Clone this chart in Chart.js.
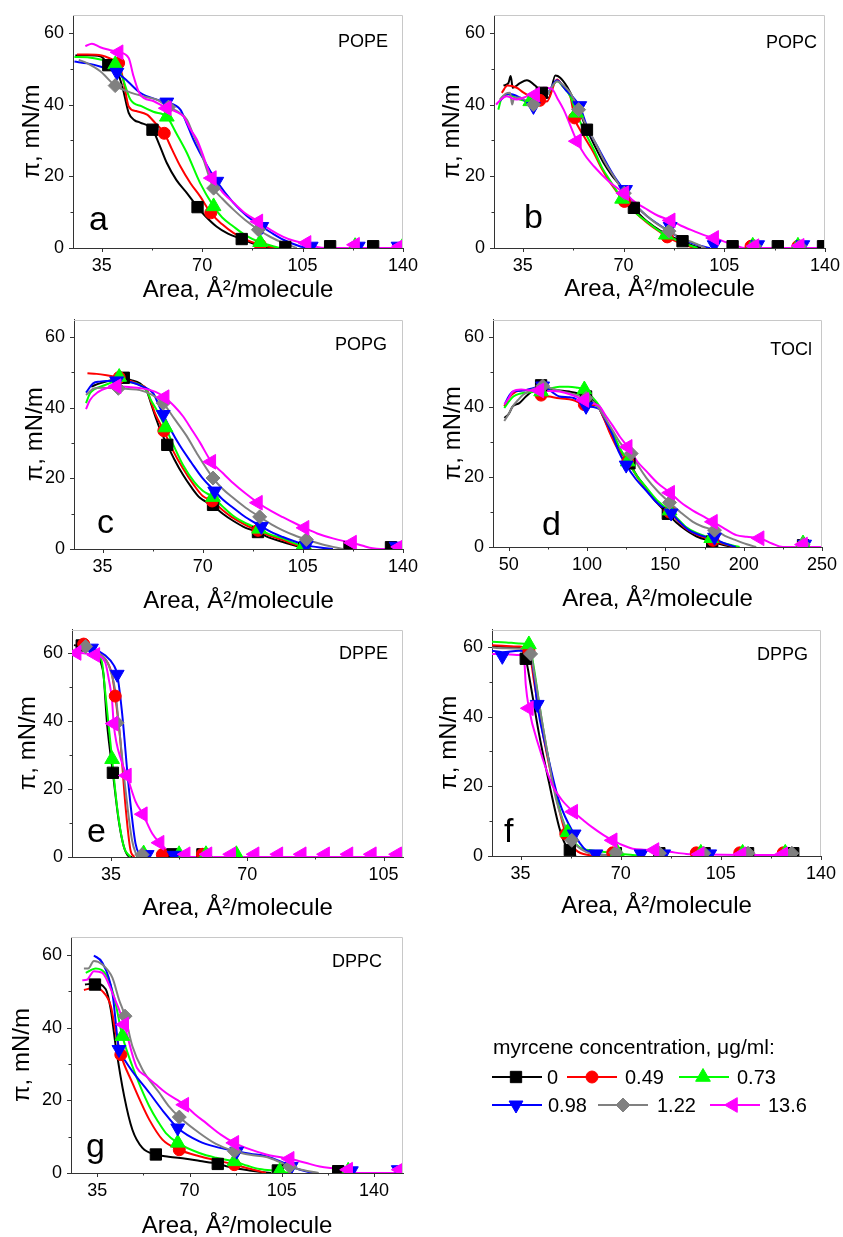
<!DOCTYPE html>
<html>
<head>
<meta charset="utf-8">
<script src="https://cdn.jsdelivr.net/npm/chart.js@4.4.0/dist/chart.umd.min.js"></script>
<style>
  html, body { margin: 0; padding: 0; background: #fff; overflow: hidden; }
  body { width: 843px; height: 1237px; position: relative; }
  canvas { position: absolute; }
</style>
</head>
<body>
<canvas id="pa"></canvas>
<canvas id="pb"></canvas>
<canvas id="pc"></canvas>
<canvas id="pd"></canvas>
<canvas id="pe"></canvas>
<canvas id="pf"></canvas>
<canvas id="pg"></canvas>
<script>
const FONT = '"Liberation Sans", Arial, sans-serif';

const concentrations = ['0', '0.49', '0.73', '0.98', '1.22', '13.6'];
const lipidNames = ['POPE', 'POPC', 'POPG', 'TOCl', 'DPPE', 'DPPG', 'DPPC'];
const panelLetters = ['a', 'b', 'c', 'd', 'e', 'f', 'g'];

// tick values
const xTicks35 = [35, 70, 105, 140];
const xMinor35 = [52.5, 87.5, 122.5];
const xTicksTocl = [50, 100, 150, 200, 250];
const xMinorTocl = [75, 125, 175, 225];
const xTicksDppe = [35, 70, 105];
const xMinorDppe = [52.5, 87.5];
const yTicks = [0, 20, 40, 60];
const yMinor = [10, 30, 50];

// ---- POPE (a) ---- order: 0, 0.49, 0.73, 0.98, 1.22, 13.6
const popeLines = [
  [[25.8,53.7],[30,53.8],[34.5,53.5],[38,50.5],[41,48],[42.5,44],[44.4,37.7],[46.5,35.6],[48.4,35],[52.7,33],[55,29],[57.7,23.7],[61,19],[64.7,15.3],[68.4,11.4],[71,9],[75,6],[79,4],[83.8,2.5],[88,1.2],[92.5,0.3],[96,0],[100,0]],
  [[26.4,54],[30,54],[35,53.7],[39,52.5],[40.9,51.6],[42.5,47],[44.4,39.5],[47,38.2],[50.8,37.2],[53.5,35],[56.8,32],[59.5,27.5],[62.4,22.8],[66,18],[69.3,14.4],[73,9.8],[77,6.6],[80.9,4.2],[85,2.4],[90.2,0.9],[96,0]],
  [[25.5,53.3],[30,53.2],[35,52.5],[39.7,51.2],[42,48],[45,41.4],[49,39.5],[53,38],[57.7,36.6],[61,32],[64.7,26.5],[69.3,18.1],[74,11.6],[77,8.5],[80.9,6],[85,3.6],[90.2,1.6],[97,0]],
  [[25.5,52],[30,51.5],[35,50.5],[40.3,49],[44,46.5],[48.4,43.3],[54.2,41.4],[57.7,40.7],[62.4,38.6],[64.5,35],[67,30.2],[71,24],[75.1,18.6],[80.9,12.6],[85.5,9],[90.8,6],[95,3.8],[98.3,2.3],[104,0.5],[107,0]],
  [[27,52.5],[30,51.5],[34.5,49.3],[39.7,45.3],[44,43.7],[50,42.2],[54.2,41.4],[58.3,39.3],[62,37.8],[64.7,35.8],[67,31.5],[69.3,27.4],[74,16.7],[77,13.8],[80.9,10.7],[85,7.8],[89.6,5.1],[94,3],[98.3,1.4],[103,0]],
  [[29.3,56.3],[31.6,57],[34.5,56],[37.5,55.3],[40.9,54.6],[44.4,53],[46.1,47.9],[48.4,42.8],[53,41],[57.7,39],[61,38],[63.5,36.7],[66,33],[68.2,30.2],[73.4,19.5],[77,15.7],[81,12.6],[85,9.7],[89.6,7.4],[94,5],[98.3,3.1],[102,2],[106.4,1.2],[110,0.3],[113,0],[140,0]]
];
const popeMarks = [
  [[37.3,51],[52.7,33],[68.4,11.4],[83.8,2.5],[99,0.3],[114.6,0.5],[129.6,0.5]],
  [[40.9,51.6],[56.8,32],[73,9.8],[90.2,0.9]],
  [[39.7,51.2],[57.7,36.6],[74,11.6],[90.2,1.6],[123.3,0.5],[140,0.6]],
  [[40.3,49],[57.7,40.7],[75.1,18.6],[90.8,6],[108,0.5],[124.4,0.5],[138.3,0.5]],
  [[39.7,45.3],[58.3,39.3],[74,16.7],[89.6,5.1]],
  [[40.9,54.6],[57.7,39],[73.4,19.5],[89.6,7.4],[106.4,1.4],[123.3,0.9],[139,0.5]]
];

// ---- POPC (b) ----
const popcLines = [
  [[28.3,45.3],[30,46],[30.8,48],[31.5,44.7],[34,46],[36.4,46.8],[39.3,45.3],[41.6,43.3],[44,41.9],[46.3,48.1],[48,47.5],[50.3,45.1],[52.7,41.4],[55,37.5],[57.3,33],[60,28.5],[63.1,23.7],[66,20.2],[69,17.2],[73.6,11.2],[77,8.2],[80.6,6],[85,3.8],[90.5,1.9],[95,0.4],[97,0]],
  [[27.7,43.3],[29.7,45.3],[32.9,44.7],[35,43.5],[37.6,42.3],[40.5,41.5],[43.4,40.9],[46.9,47],[49,45],[51.5,42.3],[53,36.3],[56,31.5],[59.7,26.5],[62.5,22],[65.5,18.1],[70.3,13],[74,10],[78.3,7],[82,4.8],[85.2,3.1],[90,1.2],[94.5,0]],
  [[26.5,38.6],[27.7,41.9],[30,42.8],[34,41.4],[37.6,40.9],[40.5,41.8],[43.4,42.8],[46.9,46.5],[49,45],[51.5,42.3],[53.6,37.7],[56.5,32.5],[59.7,27.4],[62.5,22.5],[65.5,18.6],[69.5,13.7],[74,10],[78.3,7.2],[82,5],[84.7,3.7],[90,1.6],[95.7,0]],
  [[27,41],[30,43],[34,42],[38.7,39.8],[43.4,42.8],[46.9,46.8],[50,44],[52.5,42],[54.8,39.5],[57.5,33.5],[60.8,28.5],[66.6,20.2],[70.7,15.6],[75,11.3],[78.3,8.8],[86.2,4.5],[90,2.6],[95,1],[100,0]],
  [[27,41.4],[29,43],[30.6,43.3],[31.3,40],[32,42],[34,41.9],[36,41.2],[38.7,40],[41,41.5],[43.4,42.8],[46.9,46.5],[49,45.5],[51.5,43.3],[54.4,38.6],[57.5,33.5],[60.8,28.4],[63.5,24],[66.6,20],[70.3,15.3],[74,12],[78.3,8.8],[82,6.5],[85.8,4.7],[90,2.8],[94.5,1.4],[98.5,0]],
  [[25.7,40],[27.5,41.5],[29.4,42.3],[32.9,41.4],[36.5,42.3],[39.3,42.8],[42.2,44.7],[45.1,44.4],[47,41.8],[49.2,38.6],[53.8,29.8],[56.5,26],[59.7,22.8],[65,18.5],[70.3,15.3],[74,12.8],[78.3,10.7],[82,9],[86.4,7.7],[90,6.2],[94.5,4.7],[98,3.6],[101.5,2.8],[106,1.5],[109.7,0.5],[112,0],[140,0]]
];
const popcMarks = [
  [[41.6,43.3],[57.3,33],[73.6,11.2],[90.5,1.9],[107.9,0.5],[123.6,0.5],[139.3,0.5]],
  [[40.9,41.2],[53,36.3],[70.3,13],[85.2,3.1],[114.3,0.5],[130.6,0.5]],
  [[37.6,40.9],[53.6,37.7],[69.5,13.7],[84.7,3.7],[114.9,0.6],[130.6,0.6]],
  [[38.7,39.5],[54.8,39.7],[70.7,16.3],[86.2,6],[101.5,0.9],[116.6,0.9],[132.3,0.9]],
  [[38.7,40],[54.4,38.6],[70.3,15.3],[85.8,4.7],[115.5,0.5],[131.2,0.5]],
  [[39.3,42.8],[53.8,29.8],[70.3,15.3],[86.4,7.7],[101.5,2.8],[115.5,0.5],[131.2,0.6]]
];

// ---- POPG (c) ----
const popgLines = [
  [[31,46],[34,46.9],[38,47.8],[42.4,48.3],[45,47.8],[48,46.9],[50.3,45],[52,41],[53.8,36.7],[55.5,33],[57.6,29.5],[60,25.5],[63.1,21],[66,17.5],[69,14.5],[73.6,12.3],[77,10],[80.6,8],[85,6],[89.3,4.8],[93,3.3],[98,2],[103.8,0.6],[106,0]],
  [[29.7,49.8],[32.9,49.6],[36.4,49.2],[39.9,48.7],[42.5,48.2],[45.7,47.3],[48,46.5],[50.3,45.5],[51.8,42],[53.3,38.5],[56.4,33.5],[59.5,28],[63.1,22.8],[67,18],[70,15],[73.3,13.6],[77,11],[80.6,8.8],[85,6.8],[89.3,5.3],[93,3.9],[98,2.5],[102,1.3],[106,0.2],[107,0]],
  [[29.2,41.3],[30.6,44.1],[32,45.2],[34,45.9],[37,46.8],[40.8,47.8],[44,47.3],[48,46.5],[50.3,45],[52,42],[53.8,39.5],[57,34.4],[60,29],[63.1,23.8],[67,19],[70,16.5],[73.6,14.7],[77,12],[80.6,9.4],[85,7.3],[89.7,5.7],[93,4.3],[98,3],[101.5,1.8],[105,0.8],[108,0]],
  [[29.2,44.3],[31.7,46.9],[34,47.4],[36.4,47.6],[39.9,47.6],[45,47.2],[49,46],[52.7,44.1],[54.5,41],[56.2,38.1],[59,33.5],[62,29.3],[66,24.5],[70,20],[74.2,16.4],[77,14],[80.6,11.7],[85,9],[90.5,6.4],[94,4.8],[98,3.4],[102,2.2],[106.2,1.1],[111,0.4],[115.5,0]],
  [[29.2,43.6],[32,45.5],[35,45.7],[40.5,45.5],[44,45.3],[48,45],[52,43.8],[55,42.2],[56.2,41.3],[60,37],[64.3,32.1],[68,27],[73.6,20.1],[77,17],[80.6,14.5],[85,11.7],[89.9,9.1],[94,7],[98,5.3],[102,3.9],[106.2,2.7],[111,1.5],[115.5,0.6],[119,0]],
  [[29.2,39.6],[30.6,42.2],[33.5,44.5],[36.5,45.6],[39.9,46.1],[45,45.8],[50,45.3],[53.5,44.5],[56.7,43],[60,40.5],[63.1,37.6],[66,34],[69,30.2],[73,24.7],[77,21.5],[80.6,18.7],[85,15.7],[89.3,13.1],[94,10.7],[98,9],[102,7.4],[105.6,6],[110,4.4],[115.5,3],[119,2.3],[122.2,1.8],[126,0.9],[129.4,0.2],[132,0],[140,0]]
];
const popgMarks = [
  [[42.4,48.5],[57.6,29.5],[73.6,12.5],[89.3,4.8],[105.5,0.3],[121.3,0.5],[135.8,0.5]],
  [[40.8,48.6],[56.4,33.5],[73.3,13.6],[89.3,5.3]],
  [[40.8,48.7],[57,34.4],[73.6,14.7],[89.7,5.7],[105,0.8]],
  [[39.9,47.6],[56.2,38.1],[74.2,16.4],[90.5,6.4],[106.2,1.1],[137.6,0.8]],
  [[40.5,45.5],[56.2,41.3],[73.6,20.1],[89.9,9.1],[106.2,2.7]],
  [[39.9,46.1],[56.7,43],[73,24.7],[89.3,13.1],[105.6,6],[122.2,1.8],[138.7,0.6]]
];

// ---- TOCl (d) ----
const toclLines = [
  [[47.2,36.9],[50,38],[52.6,40.2],[56.8,41.1],[61,43],[65,44.5],[70.7,46.2],[78.1,45],[88.8,44.4],[95,43.8],[99.4,43],[105.8,41.1],[109,38.5],[112.2,35.5],[116,31.5],[120.7,28.1],[127.1,23.9],[132,20.3],[137.8,16.9],[144,13],[151.6,9.5],[157,7],[163.3,4.8],[170,3],[179.9,1.6],[186,0.7],[193,0]],
  [[47.2,40.2],[50,42.5],[54.7,44.4],[60,44.8],[65,45],[70.7,43.4],[76,43],[82.4,42.5],[90.9,42],[98.3,40.7],[103,40.5],[106,40.5],[110,37.5],[114,33.2],[119,28.5],[126,24.4],[132,20],[138,16.3],[145,12.5],[152.7,10],[158,7.5],[164,5],[171,3.3],[180.4,1.9],[188,0.8],[195,0]],
  [[47.2,39.7],[50,41.5],[53,43],[57,43.8],[61,44.1],[66,44.3],[70.7,44.4],[76,45.2],[82.4,45.8],[88,45.8],[93,45.6],[98.3,45],[103,43],[108,40.2],[112,36.5],[116.5,32.7],[121,28.2],[126,24.4],[132,20.2],[138,16.9],[145,13.2],[152.7,10.4],[158,8],[163,5.8],[170,4],[179.3,2.5],[188,1],[197.4,0]],
  [[47.8,41.1],[50,43],[52.6,44.4],[59,44.7],[65,45.3],[71.7,46],[77,44.5],[82.4,43],[88,42.8],[92,42.5],[99.4,40.2],[104,40],[108,39.3],[112,36],[116.5,31.8],[120,27.5],[125,23.4],[131,19.5],[138,16],[145,12.5],[153.7,9.7],[159,7.2],[165,4.8],[172,3.4],[181.4,2.2],[188,1],[195,0]],
  [[47.2,36],[50,38],[52.6,40.2],[56,42],[59,43.4],[65,45],[71.7,46],[78,45.2],[84.5,44.4],[92,43.6],[99.4,42.5],[104,41.5],[108,39.3],[112,36.5],[116.5,33.2],[122,29.3],[128.2,26.7],[133,23],[138,19.7],[145,16],[152.7,12.7],[160,9.8],[167.6,7.2],[174,5.8],[181.4,4.8],[188,3.2],[195.3,1.9],[202,0.8],[208,0]],
  [[47.2,40.7],[50,42.5],[52.6,44.4],[58,45],[63,44.8],[69.6,44.7],[76,44.6],[82.4,44.4],[90,43.5],[98.3,42],[104,41],[108,40.2],[112,37.5],[116.5,34.6],[121,31.5],[126,28.6],[132,24.5],[138,21.6],[145,18.3],[153.1,15.5],[160,12.7],[167.6,10.4],[174,8.8],[180.4,7.2],[188,5.2],[195.3,3.4],[202,2.9],[210.2,2.5],[218,1],[225,0],[250,0]]
];
const toclMarks = [
  [[70.7,46.2],[99.4,43],[127.1,23.9],[151.6,9.5],[179.9,1.6],[237.9,0.5]],
  [[70.7,43.4],[98.3,40.7],[126,24.4],[152.7,10],[180.4,1.9],[237.9,0.6]],
  [[70.7,44.4],[98.3,45],[126,24.4],[152.7,10.4],[179.3,2.5],[237.9,1]],
  [[71.7,46],[99.4,40.2],[125,23.4],[153.7,9.7],[181.4,2.8],[238.9,0.8]],
  [[71.7,46],[99.4,42.5],[128.2,26.7],[152.7,12.7],[181.4,4.8],[237.9,0.8]],
  [[69.6,44.7],[98.3,42],[126,28.6],[153.1,15.5],[180.4,7.2],[210.2,2.5],[237.9,0.7]]
];

// ---- DPPE (e) ----
const dppeLines = [
  [[25.5,62.4],[28.4,61.7],[31.8,59.4],[32.5,57],[33.1,53.6],[34,39.3],[35.5,24.8],[37,10.7],[38.3,3.1],[39.6,0.2],[40.5,0]],
  [[26,62.7],[31,60.3],[33.5,58.4],[35.3,53.6],[36.1,47.4],[37.4,34.5],[38.7,15.5],[40,2.1],[41,0]],
  [[26,62.2],[31,60.3],[32.7,57.4],[33.5,48.9],[35.3,28.8],[36.6,14.5],[38.3,3.1],[40,0]],
  [[26,62],[30.1,61.5],[33.5,59.4],[35.7,56.5],[36.6,53.8],[37.8,43.1],[39.6,20.2],[41.3,4],[42.6,0]],
  [[26,62.4],[31.8,60],[34.4,56.5],[36.1,48.9],[37,39.3],[38.7,20.2],[40.4,5],[41.7,0]],
  [[25.3,60.5],[28,60],[31,59.5],[33.5,57.4],[34.5,52],[35.3,46],[35.7,39.3],[37.8,27.9],[39.1,24],[41.3,16.4],[43.2,12.6],[45.6,6.9],[47.5,4.2],[50.8,0.7],[52.5,0],[110,0]]
];
const dppeMarks = [
  [[27.5,62.3],[35.5,24.8],[50.8,0.8],[58.5,0.8]],
  [[28,62.7],[36.1,47.4],[48.2,0.7],[58.5,0.8]],
  [[35.3,28.8],[43.4,1],[52.5,0.8],[59.4,0.8],[67.2,0.8]],
  [[30,61.5],[36.6,53.8],[44.3,0.7],[51.2,0.5]],
  [[28.5,62],[36.6,39.5],[43,0.7]],
  [[26.2,60.1],[31,59.5],[35.7,39.3],[39.1,24],[43.2,12.6],[47.5,4.2],[54.2,0.8],[59.8,0.8],[65.9,0.8],[71.9,0.8],[78,0.8],[84,0.8],[90,0.8],[96,0.8],[102,0.8],[108.5,0.8]]
];

// ---- DPPG (f) ----
const dppgLines = [
  [[25,60.3],[30,60],[34.4,59.8],[36.8,56.6],[38.5,49.1],[41.4,35.2],[44.9,21.2],[48.5,8.2],[50.5,3.5],[52.2,1.7],[54.3,0]],
  [[25,60.5],[30,60.3],[34.4,60.1],[37.9,58.9],[39.7,50],[43.2,33.3],[47.3,17.5],[50.8,6.3],[54.3,1.7],[60.1,0]],
  [[25,61.5],[30,61.3],[34.4,61],[37.9,60.7],[39.1,56.6],[42.6,38],[47.3,17.5],[51.4,6.8],[55.5,2.6],[60,1.6],[63.7,1.2],[69,0.7],[74.2,0.3],[78,0]],
  [[25,58.9],[28.6,58.5],[34.4,58.9],[38,58.5],[39.7,51.9],[40.8,43.5],[43.8,31.4],[48.5,15.6],[53.7,6.3],[57.8,1.7],[61,0.6],[64.8,0.3],[68,0]],
  [[25,59.8],[30,59.6],[34.4,59.5],[38.5,58],[39.7,52.8],[43.2,35.2],[47.3,16.6],[50,9.5],[52.9,4.5],[57.8,1.2],[64,0.3],[68,0]],
  [[25,58],[30,57.9],[34.4,57.7],[36.2,56.6],[36.8,49.1],[37.9,42.4],[41.4,31.4],[46.1,20.3],[49.5,16],[53.4,12.7],[57,10.2],[60.1,8.2],[64,6],[67.2,4.5],[71,3],[74.2,2.1],[78,1.8],[81.8,1.7],[87,1.2],[92.9,0.6],[100,0.4],[112,0.3],[125,0.3],[130,0.2]]
];
const dppgMarks = [
  [[36.8,56.6],[52.2,1.7],[68.3,0.8],[83.5,0.8],[99.3,0.8],[114.5,0.8],[130.3,0.8]],
  [[37.9,58.9],[50.8,6.3],[67.2,0.9],[96.4,0.9],[111.6,0.9],[126.8,0.9]],
  [[37.9,60.7],[51.4,6.8],[68.8,1],[98,0.9],[112.6,0.9],[127.5,0.9]],
  [[28.6,57.3],[40.8,43.5],[53.7,6.3],[61.3,0.6],[77.1,0.6],[85,0.6],[101.1,0.6]],
  [[38.5,58],[52.9,4.5],[68.3,1],[83.5,0.8],[99,0.8],[114.5,0.8],[129.8,0.8]],
  [[37.9,42.4],[53.4,12.7],[67.2,4.5],[81.8,1.7],[97.6,0.5],[112.2,0.5],[126.8,0.5]]
];

// ---- DPPC (g) ----
const dppcLines = [
  [[30.3,51.9],[34.1,52.2],[38.2,50.6],[40.1,45],[42,34.9],[45.2,21.1],[48.3,11.9],[52.1,6.9],[57.2,5.1],[62,4.5],[68.6,3.9],[74,3.3],[78.8,2.8],[80.7,2.5],[86,1.5],[92.7,0.7],[98,0.2],[101,0]],
  [[29.9,50.4],[33.7,51],[36.9,50.1],[40.1,46],[42,38.6],[43.9,32.6],[48.3,24.8],[51.5,19.5],[54.7,14.7],[59.7,9.2],[66.1,6.4],[73.7,4.6],[80,3.5],[87,2.3],[92,1.3],[96.5,0.5],[99,0]],
  [[30.6,55.1],[34.4,56.3],[38.2,54.7],[41.3,48.7],[44.5,37.7],[48.3,29.4],[51.5,23.5],[54.7,18.4],[58,14.2],[61,11],[65.5,8.3],[73.7,5.5],[80,4.2],[87,3.2],[92,2],[96.5,1.1],[104.2,0.5],[108,0]],
  [[33.7,59.9],[36.9,57.9],[40.7,49.6],[43.2,34],[45.5,31],[48.3,28],[54.7,22.1],[60,17],[65.5,12.4],[73.7,8.7],[80,7.2],[87.9,6],[93,5.3],[99.1,4.6],[104,3.3],[108.6,1.8],[112,0.9],[115.6,0.2],[118,0]],
  [[29.9,56.3],[31.5,56.3],[33.7,58.4],[36.9,57.4],[40.7,53.8],[43.2,47.8],[45.5,43.2],[48.3,34.9],[52.1,28.5],[58.5,22.1],[62,18.5],[66.1,15.4],[73.7,11],[80,8],[87,6],[93,5],[99.1,4.4],[104,3.1],[108,1.8],[113,0.8],[119,0]],
  [[29.3,53.1],[31,53.2],[33.7,55.6],[36.9,55.1],[40.7,49.6],[45.2,40.9],[48.3,32.6],[50,29],[53.4,26.7],[57,24.5],[61,22.1],[68,18.8],[72,16.2],[76.2,13.8],[82,10.5],[87,8.3],[93,6.5],[99.1,5.1],[104,4.4],[108,3.9],[114,2.8],[119.4,1.8],[125,1.2],[130.2,0.7],[134,0],[151,0]]
];
const dppcMarks = [
  [[34.1,51.9],[57.2,5.1],[80.7,2.5],[103.5,0.7],[126.4,0.5]],
  [[43.9,32.6],[66.1,6.4],[87,2.3]],
  [[44.5,37.7],[65.5,8.3],[87,3.2],[104.2,0.5],[130.2,0.6]],
  [[43.2,34],[65.5,12.4],[87.9,6],[108.6,1.8],[131.4,0.6],[149.2,0.9]],
  [[45.5,43.2],[66.1,15.4],[87,6],[108,1.8]],
  [[45.2,40.9],[68,18.8],[87,8.3],[108,3.9],[130.2,0.9],[149.8,0.9]]
];

// ---- styles ----
const seriesColors = ['#000000', '#ff0000', '#00ff00', '#0000ff', '#808080', '#ff00ff'];
const markerStyles = ['rect', 'circle', 'triangle', 'triangle', 'rectRot', 'triangle'];
const markerRotation = [0, 0, 0, 180, 0, -90];
const markerRadius = [8, 6, 8.5, 8, 7, 8.5];

// page layout of each panel: canvas [x, y, w, h], plot box [left, top, right, bottom]
const panels = [
  { id: 'pa', lines: popeLines, marks: popeMarks, xMin: 25, xMax: 140, yMax: 65, xt: xTicks35, xm: xMinor35,
    canvas: [0, 0, 420, 310], box: [73, 15, 403, 248], xTitleY: 290.6, yTitleX: 32, letter: [16, 18], name: [15, 32] },
  { id: 'pb', lines: popcLines, marks: popcMarks, xMin: 25, xMax: 140, yMax: 65, xt: xTicks35, xm: xMinor35,
    canvas: [420, 0, 423, 310], box: [494, 15, 825, 248], xTitleY: 289.6, yTitleX: 452, letter: [30, 20], name: [8, 33] },
  { id: 'pc', lines: popgLines, marks: popgMarks, xMin: 25, xMax: 140, yMax: 65, xt: xTicks35, xm: xMinor35,
    canvas: [0, 310, 420, 310], box: [74, 315, 403, 549], xTitleY: 601.6, yTitleX: 35, letter: [23, 16], name: [16, 30] },
  { id: 'pd', lines: toclLines, marks: toclMarks, xMin: 40, xMax: 250, yMax: 65, xt: xTicksTocl, xm: xMinorTocl,
    canvas: [420, 310, 423, 310], box: [493, 315, 822, 547], xTitleY: 599.6, yTitleX: 453, letter: [49, 12], name: [10, 35] },
  { id: 'pe', lines: dppeLines, marks: dppeMarks, xMin: 25, xMax: 110, yMax: 67, xt: xTicksDppe, xm: xMinorDppe,
    canvas: [0, 620, 420, 310], box: [72, 623, 403, 857], xTitleY: 908, yTitleX: 28, letter: [15, 15], name: [15, 29] },
  { id: 'pf', lines: dppgLines, marks: dppgMarks, xMin: 25, xMax: 140, yMax: 65, xt: xTicks35, xm: xMinor35,
    canvas: [420, 620, 423, 310], box: [492, 623, 821, 856], xTitleY: 906.6, yTitleX: 449, letter: [12, 14], name: [13, 30] },
  { id: 'pg', lines: dppcLines, marks: dppcMarks, xMin: 25, xMax: 151, yMax: 65, xt: xTicks35, xm: xMinor35,
    canvas: [0, 920, 843, 330], box: [71, 937, 403, 1173], xTitleY: 1226.6, yTitleX: 22.5, letter: [15, 16], name: [21, 30] }
];

// legend slots (page coords): line from x0 to x1 at y, marker at mx, text at tx
const legendSlots = [
  [492, 542, 1077, 516, 547], [567, 617, 1077, 592, 625], [679, 729, 1077, 703, 737],
  [492, 542, 1105, 516, 548], [598, 648, 1105, 623, 657], [710, 760, 1105, 733, 768]
];

function toXY(pts) {
  return pts.map(p => ({ x: p[0], y: p[1] }));
}

function framePlugin(p, k) {
  return {
    id: 'frame' + k,
    afterDraw(chart) {
      const { ctx, chartArea: a } = chart;
      const xs = chart.scales.x, ys = chart.scales.y;
      ctx.save();
      ctx.lineWidth = 1;
      ctx.strokeStyle = '#c8c8c8';
      ctx.beginPath();
      ctx.moveTo(a.left, Math.round(a.top) + 0.5);
      ctx.lineTo(Math.round(a.right) - 0.5, Math.round(a.top) + 0.5);
      ctx.lineTo(Math.round(a.right) - 0.5, a.bottom);
      ctx.stroke();

      // outward ticks
      ctx.strokeStyle = '#333';
      ctx.beginPath();
      p.xt.forEach(v => { const px = Math.round(xs.getPixelForValue(v)) + 0.5; ctx.moveTo(px, a.bottom); ctx.lineTo(px, a.bottom + 4); });
      p.xm.forEach(v => { const px = Math.round(xs.getPixelForValue(v)) + 0.5; ctx.moveTo(px, a.bottom); ctx.lineTo(px, a.bottom + 2.5); });
      yTicks.forEach(v => { const py = Math.round(ys.getPixelForValue(v)) + 0.5; ctx.moveTo(a.left, py); ctx.lineTo(a.left - 4, py); });
      yMinor.forEach(v => { const py = Math.round(ys.getPixelForValue(v)) + 0.5; ctx.moveTo(a.left, py); ctx.lineTo(a.left - 2.5, py); });
      ctx.stroke();

      ctx.fillStyle = '#000';
      ctx.textBaseline = 'alphabetic';
      ctx.textAlign = 'left';
      ctx.font = '34px ' + FONT;
      ctx.fillText(panelLetters[k], a.left + p.letter[0], a.bottom - p.letter[1]);
      ctx.textAlign = 'right';
      ctx.font = '18px ' + FONT;
      ctx.fillText(lipidNames[k], a.right - p.name[0], a.top + p.name[1]);
      ctx.restore();
    }
  };
}

const legendPlugin = {
  id: 'concLegend',
  afterDraw(chart) {
    const ctx = chart.ctx;
    const ox = 0, oy = 920;
    ctx.save();
    ctx.fillStyle = '#000';
    ctx.font = '21px ' + FONT;
    ctx.textAlign = 'left';
    ctx.textBaseline = 'alphabetic';
    ctx.fillText('myrcene concentration, μg/ml:', 493 - ox, 1054 - oy);
    ctx.font = '20px ' + FONT;
    ctx.textBaseline = 'middle';
    legendSlots.forEach((s, k) => {
      const y = s[2] - oy;
      ctx.strokeStyle = seriesColors[k];
      ctx.lineWidth = 2;
      ctx.beginPath();
      ctx.moveTo(s[0] - ox, y);
      ctx.lineTo(s[1] - ox, y);
      ctx.stroke();
      ctx.fillStyle = seriesColors[k];
      ctx.lineWidth = 1;
      Chart.helpers.drawPoint(ctx, {
        pointStyle: markerStyles[k], rotation: markerRotation[k], radius: markerRadius[k], borderWidth: 1
      }, s[3] - ox, y);
      ctx.fillStyle = '#000';
      ctx.fillText(concentrations[k], s[4] - ox, y + 1);
    });
    ctx.restore();
  }
};

panels.forEach((p, k) => {
  const cv = document.getElementById(p.id);
  const [cx, cy, cw, ch] = p.canvas;
  const [bl, bt, br, bb] = p.box;
  cv.width = cw;
  cv.height = ch;
  cv.style.left = cx + 'px';
  cv.style.top = cy + 'px';

  const titleSize = 24;
  const half = titleSize * 1.2 / 2;

  const datasets = [];
  p.lines.forEach((pts, i) => datasets.push({
    label: concentrations[i], data: toXY(pts), showLine: true,
    borderColor: seriesColors[i], borderWidth: 2, pointRadius: 0,
    cubicInterpolationMode: 'monotone', clip: 0, order: 20 - i
  }));
  p.marks.forEach((pts, i) => datasets.push({
    label: concentrations[i], data: toXY(pts), showLine: false,
    pointStyle: markerStyles[i], pointRotation: markerRotation[i], pointRadius: markerRadius[i],
    pointBackgroundColor: seriesColors[i], pointBorderColor: seriesColors[i], pointBorderWidth: 1,
    clip: 0, order: 10 - i
  }));

  const plugins = [framePlugin(p, k)];
  if (p.id === 'pg') plugins.push(legendPlugin);

  new Chart(cv, {
    type: 'scatter',
    data: { datasets: datasets },
    options: {
      responsive: false,
      animation: false,
      events: [],
      layout: { padding: { left: 0, top: bt - cy, right: cx + cw - br, bottom: 0 } },
      plugins: { legend: { display: false }, tooltip: { enabled: false } },
      scales: {
        x: {
          type: 'linear', min: p.xMin, max: p.xMax,
          afterBuildTicks: s => { s.ticks = p.xt.map(v => ({ value: v })); },
          afterFit: s => { s.height = cy + ch - bb; s.paddingLeft = 0; s.paddingRight = 0; },
          grid: { display: false, drawTicks: false },
          border: { display: true, color: '#333', width: 1 },
          ticks: { color: '#000', font: { family: FONT, size: 18 }, padding: 7, maxRotation: 0, autoSkip: false },
          title: { display: true, text: 'Area, Å²/molecule', color: '#000',
                   font: { family: FONT, size: titleSize }, padding: { top: 0, bottom: cy + ch - p.xTitleY - half } }
        },
        y: {
          type: 'linear', min: 0, max: p.yMax,
          afterBuildTicks: s => { s.ticks = yTicks.map(v => ({ value: v })); },
          afterFit: s => { s.width = bl - cx; s.paddingTop = 0; s.paddingBottom = 0; },
          grid: { display: false, drawTicks: false },
          border: { display: true, color: '#333', width: 1 },
          ticks: { color: '#000', font: { family: FONT, size: 18 }, padding: 9, autoSkip: false },
          title: { display: true, text: 'π, mN/m', color: '#000',
                   font: { family: FONT, size: titleSize }, padding: { top: p.yTitleX - cx - half, bottom: 0 } }
        }
      }
    },
    plugins: plugins
  });
});
</script>
</body>
</html>
